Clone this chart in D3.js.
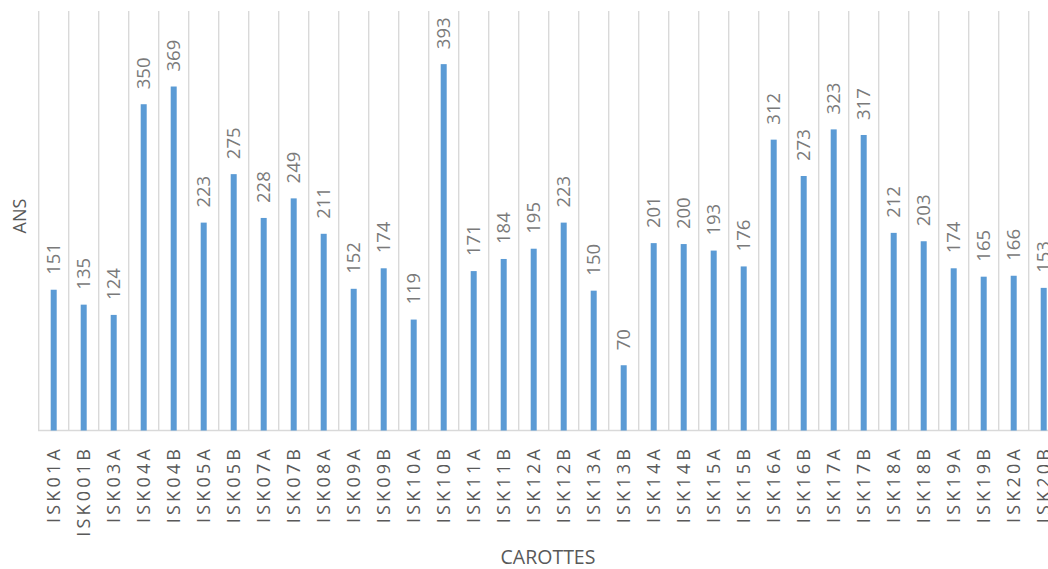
<!DOCTYPE html>
<html>
<head>
<meta charset="utf-8">
<script src="https://cdn.jsdelivr.net/npm/d3@7"></script>
<style>
  body { margin: 0; background: #fff; }
  text { font-family: "Open Sans", sans-serif; }
</style>
</head>
<body>
<div id="vis"></div>
<script>
var width = 1048,
	height = 569;

var carottes = ["ISK01A", "ISK001B", "ISK03A", "ISK04A", "ISK04B", "ISK05A", "ISK05B", "ISK07A", "ISK07B", "ISK08A",
	"ISK09A", "ISK09B", "ISK10A", "ISK10B", "ISK11A", "ISK11B", "ISK12A", "ISK12B", "ISK13A", "ISK13B",
	"ISK14A", "ISK14B", "ISK15A", "ISK15B", "ISK16A", "ISK16B", "ISK17A", "ISK17B", "ISK18A", "ISK18B",
	"ISK19A", "ISK19B", "ISK20A", "ISK20B"];
var ans = [151, 135, 124, 350, 369, 223, 275, 228, 249, 211,
	152, 174, 119, 393, 171, 184, 195, 223, 150, 70,
	201, 200, 193, 176, 312, 273, 323, 317, 212, 203,
	174, 165, 166, 153];

var plotLeft = 38.7,
	step = 30,
	plotTop = 11,
	plotBase = 430.5,
	barW = 6;

var x = d3.scaleBand()
		.domain(carottes)
		.range([plotLeft, plotLeft + step * carottes.length])
		.padding(0),

	y = d3.scaleLinear()
		.domain([0, 450])
		.range([plotBase, plotTop]);

var svg = d3.select('#vis')
		.append('svg')
		.attr('width', width)
		.attr('height', height);

// gridlines between categories
var grid = carottes.map(function(d) { return x(d); });
grid.push(x.range()[1]);

svg.append('g')
	.selectAll('line')
	.data(grid)
	.enter()
	.append('line')
	.attr('x1', function(d) { return d; })
	.attr('x2', function(d) { return d; })
	.attr('y1', plotTop)
	.attr('y2', plotBase)
	.style('stroke', '#d9d9d9')
	.style('stroke-width', 1.4);

svg.append('line')
	.attr('x1', plotLeft - 0.7)
	.attr('x2', width)
	.attr('y1', plotBase)
	.attr('y2', plotBase)
	.style('stroke', '#d9d9d9')
	.style('stroke-width', 1.4);

var bars = svg.append('g')
	.selectAll('g')
	.data(carottes)
	.enter()
	.append('g');

bars.append('rect')
	.attr('x', function(d) { return x(d) + x.bandwidth() / 2 - barW / 2; })
	.attr('width', barW)
	.attr('y', function(d, i) { return y(ans[i]); })
	.attr('height', function(d, i) { return plotBase - y(ans[i]); })
	.style('fill', '#5b9bd5');

// value labels
bars.append('text')
	.attr('transform', function(d, i) {
		return 'translate(' + (x(d) + x.bandwidth() / 2) + ',' + (y(ans[i]) - 15) + ') rotate(-90)';
	})
	.attr('dy', '0.36em')
	.style('font-size', '18.5px')
	.style('fill', '#7a7a7a')
	.text(function(d, i) { return ans[i]; });

// category labels
bars.append('text')
	.attr('transform', function(d) {
		return 'translate(' + (x(d) + x.bandwidth() / 2) + ',' + 446 + ') rotate(-90)';
	})
	.attr('dy', '0.36em')
	.attr('text-anchor', 'end')
	.style('font-size', '18px')
	.style('letter-spacing', '3.2px')
	.style('fill', '#595959')
	.text(function(d) { return d; });

svg.append('text')
	.attr('x', 548)
	.attr('y', 564)
	.attr('text-anchor', 'middle')
	.style('font-size', '19.5px')
	.style('fill', '#595959')
	.text('CAROTTES');

svg.append('text')
	.attr('transform', 'translate(20,216) rotate(-90)')
	.attr('dy', '0.36em')
	.attr('text-anchor', 'middle')
	.style('font-size', '18px')
	.style('fill', '#595959')
	.text('ANS');
</script>
</body>
</html>
